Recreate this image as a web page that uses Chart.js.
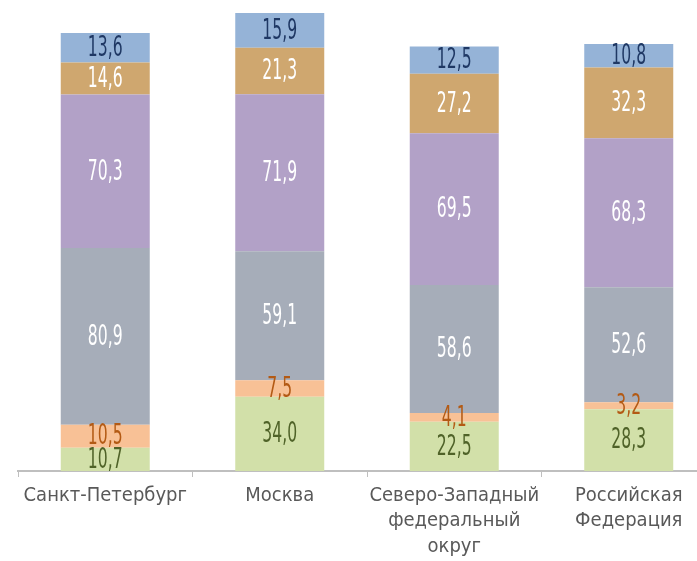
<!DOCTYPE html>
<html>
<head>
<meta charset="utf-8">
<script src="https://cdn.jsdelivr.net/npm/chart.js@4"></script>
<style>
  html, body { margin: 0; padding: 0; background: #fff; overflow: hidden; }
  canvas { display: block; }
</style>
</head>
<body>
<canvas id="chart" width="720" height="561"></canvas>
<script>
// categories and series (bottom to top)
const regions = [
    'Санкт-Петербург',
    'Москва',
    ['Северо-Западный', 'федеральный', 'округ'],
    ['Российская', 'Федерация']
];
const seriesA = [10.7, 34.0, 22.5, 28.3];
const seriesB = [10.5, 7.5, 4.1, 3.2];
const seriesC = [80.9, 59.1, 58.6, 52.6];
const seriesD = [70.3, 71.9, 69.5, 68.3];
const seriesE = [14.6, 21.3, 27.2, 32.3];
const seriesF = [13.6, 15.9, 12.5, 10.8];

const fills = ['#d2e0a9', '#f8c196', '#a6adb9', '#b2a1c7', '#cfa76f', '#95b3d7'];
const inks  = ['#4f6228', '#b35a14', '#ffffff', '#ffffff', '#ffffff', '#1f3864'];

const mk = (data, i) => ({
    data: data,
    backgroundColor: fills[i],
    borderWidth: 0,
    barPercentage: 0.51,
    categoryPercentage: 1.0
});

// value labels, squeezed horizontally to mimic the narrow font
const valueLabels = {
    id: 'valueLabels',
    afterDatasetsDraw(chart) {
        const ctx = chart.ctx;
        chart.data.datasets.forEach((ds, i) => {
            chart.getDatasetMeta(i).data.forEach((bar, j) => {
                const v = ds.data[j];
                const y = (bar.y + bar.base) / 2;
                ctx.save();
                ctx.translate(bar.x, y + 1);
                ctx.scale(0.62, 1);
                ctx.font = '28px "DejaVu Sans Condensed", "DejaVu Sans"';
                ctx.fillStyle = inks[i];
                ctx.textAlign = 'center';
                ctx.textBaseline = 'middle';
                ctx.fillText(v.toFixed(1).replace('.', ','), 0, 0);
                ctx.restore();
            });
        });
    }
};

new Chart(document.getElementById('chart'), {
    type: 'bar',
    data: {
        labels: regions,
        datasets: [seriesA, seriesB, seriesC, seriesD, seriesE, seriesF].map(mk)
    },
    options: {
        responsive: false,
        animation: false,
        layout: { padding: { left: 18, right: 4, top: 8, bottom: 0 } },
        plugins: { legend: { display: false }, tooltip: { enabled: false } },
        scales: {
            x: {
                stacked: true,
                afterFit: s => { s.height = 90; },
                border: { display: true, color: '#bfbfbf', width: 2 },
                grid: { drawOnChartArea: false, drawTicks: true, tickLength: 6, color: '#bfbfbf', offset: true },
                ticks: {
                    color: '#595959',
                    padding: 6,
                    maxRotation: 0,
                    autoSkip: false,
                    font: { family: '"DejaVu Sans Condensed", "DejaVu Sans"', size: 20, lineHeight: 1.27 }
                }
            },
            y: {
                stacked: true,
                display: false,
                min: 0,
                max: 212
            }
        }
    },
    plugins: [valueLabels]
});
</script>
</body>
</html>
